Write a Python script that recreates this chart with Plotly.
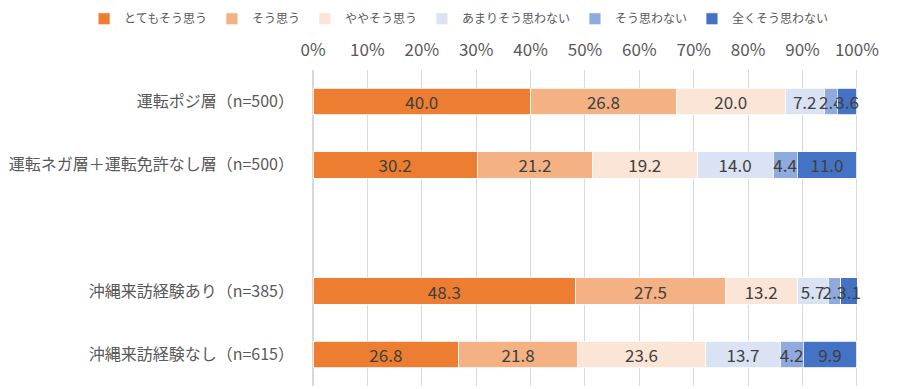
import plotly.graph_objects as go

categories = ["運転ポジ層（n=500）", "運転ネガ層＋運転免許なし層（n=500）",
              "沖縄来訪経験あり（n=385）", "沖縄来訪経験なし（n=615）"]
series_names = ["とてもそう思う", "そう思う", "ややそう思う", "あまりそう思わない", "そう思わない", "全くそう思わない"]
s1 = [40.0, 30.2, 48.3, 26.8]
s2 = [26.8, 21.2, 27.5, 21.8]
s3 = [20.0, 19.2, 13.2, 23.6]
s4 = [7.2, 14.0, 5.7, 13.7]
s5 = [2.4, 4.4, 2.3, 4.2]
s6 = [3.6, 11.0, 3.1, 9.9]
tick_vals = [0, 10, 20, 30, 40, 50, 60, 70, 80, 90, 100]

colors = ["#ED7D31", "#F4B183", "#FBE5D6", "#DAE3F3", "#8FAADC", "#4472C4"]
series = [s1, s2, s3, s4, s5, s6]
spacer = " "
cat_order = categories[:2] + [spacer] + categories[2:]

FONT = "Noto Sans CJK JP"
fig = go.Figure()
for name, vals, col in zip(series_names, series, colors):
    fig.add_trace(go.Bar(
        name=name, y=categories, x=vals, orientation="h",
        marker=dict(color=col, line=dict(color="white", width=0.8)),
        text=[f"{v:.1f}" for v in vals], textposition="inside",
        insidetextanchor="middle", constraintext="none", textangle=0,
        textfont=dict(family=FONT, size=17, color="#404040"),
        cliponaxis=False,
    ))

fig.update_layout(
    barmode="stack", bargap=0.58,
    width=897, height=389,
    margin=dict(l=305, r=47, t=62, b=11, autoexpand=False),
    paper_bgcolor="white", plot_bgcolor="white",
    font=dict(family=FONT, size=15, color="#595959"),
    legend=dict(orientation="h", xref="paper", yref="paper",
                x=-0.42, xanchor="left", y=1.208, yanchor="top",
                traceorder="normal",
                font=dict(size=12, color="#595959"), itemwidth=30,
                tracegroupgap=0),
)
fig.update_xaxes(side="top", range=[0, 100.2], tickvals=tick_vals,
                 ticktext=[f"{v}%" for v in tick_vals], automargin=False,
                 showgrid=True, gridcolor="#D9D9D9", gridwidth=1,
                 zeroline=True, zerolinecolor="#D9D9D9", ticklabelstandoff=10,
                 tickfont=dict(size=17, color="#595959"), ticks="")
fig.update_yaxes(categoryorder="array", categoryarray=cat_order, automargin=False,
                 autorange="reversed", tickfont=dict(size=16, color="#595959"),
                 ticks="", ticklabelstandoff=18, showgrid=False)

fig.write_html("out.html")
